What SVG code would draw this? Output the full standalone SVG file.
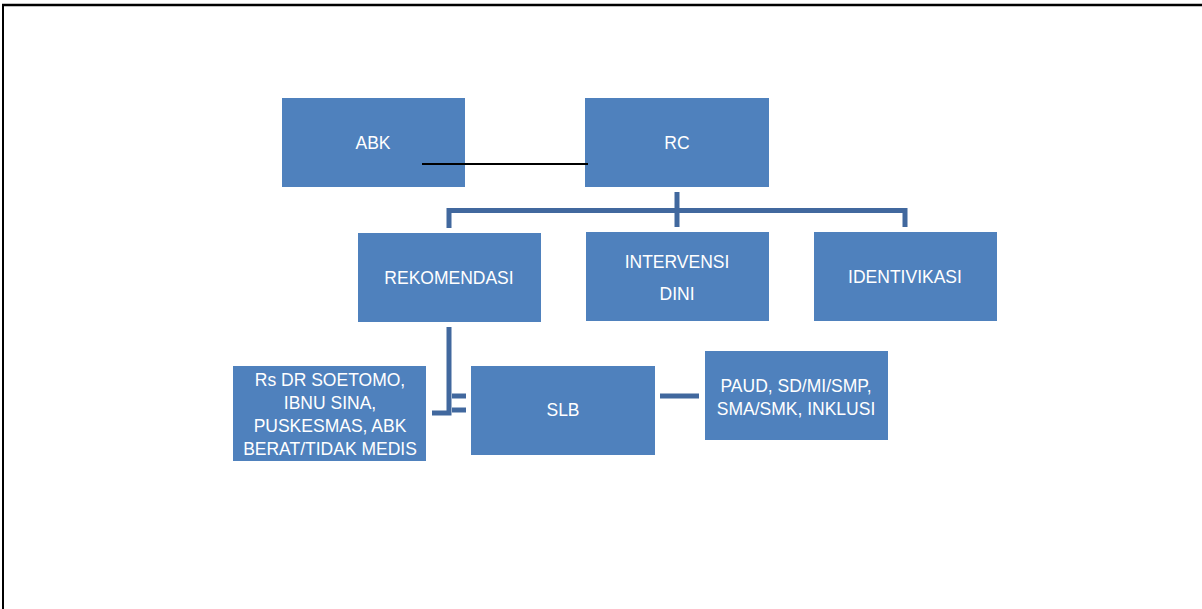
<svg xmlns="http://www.w3.org/2000/svg" width="1202" height="609" viewBox="0 0 1202 609">
<style>
.box{fill:#4F81BD;}
.t{fill:#FFFFFF;font-family:"Liberation Sans",Arial,sans-serif;font-size:17.5px;text-anchor:middle;}
.c{fill:none;stroke:#41689E;stroke-width:5;}
</style>
<rect x="0" y="0" width="1202" height="609" fill="#FFFFFF"/>
<g id="frame">
<line x1="2" y1="5" x2="1202" y2="5" stroke="#000" stroke-width="2.5"/>
<line x1="3" y1="4" x2="3" y2="609" stroke="#000" stroke-width="2"/>
</g>
<g id="node-abk"><rect class="box" x="282" y="98" width="183" height="89"/><text class="t" x="373" y="149">ABK</text></g>
<g id="node-rc"><rect class="box" x="585" y="98" width="184" height="89"/><text class="t" x="677" y="149">RC</text></g>
<g id="node-rekomendasi"><rect class="box" x="358" y="233" width="183" height="89"/><text class="t" x="449" y="284">REKOMENDASI</text></g>
<g id="node-intervensi"><rect class="box" x="586" y="232" width="183" height="89"/><text class="t" x="677" y="268">INTERVENSI</text><text class="t" x="677" y="300">DINI</text></g>
<g id="node-identivikasi"><rect class="box" x="814" y="232" width="183" height="89"/><text class="t" x="905" y="283">IDENTIVIKASI</text></g>
<g id="node-rs"><rect class="box" x="233" y="366" width="193" height="95"/><text class="t" x="330" y="386">Rs DR SOETOMO,</text><text class="t" x="330" y="409">IBNU SINA,</text><text class="t" x="330" y="432">PUSKESMAS, ABK</text><text class="t" x="330" y="455">BERAT/TIDAK MEDIS</text></g>
<g id="node-slb"><rect class="box" x="471" y="366" width="184" height="89"/><text class="t" x="563" y="416">SLB</text></g>
<g id="node-paud"><rect class="box" x="705" y="351" width="183" height="89"/><text class="t" x="796" y="392">PAUD, SD/MI/SMP,</text><text class="t" x="796" y="415">SMA/SMK, INKLUSI</text></g>
<g id="connectors">
<line x1="422" y1="164" x2="588" y2="164" stroke="#000" stroke-width="2"/>
<line class="c" x1="677" y1="192" x2="677" y2="227"/>
<polyline class="c" points="449,228 449,210.5 905,210.5 905,227"/>
<polyline class="c" points="449,327 449,413 432,413"/>
<line class="c" x1="452" y1="396" x2="466" y2="396"/>
<line class="c" x1="452" y1="410" x2="466" y2="410"/>
<line class="c" x1="660" y1="396" x2="699" y2="396"/>
</g>
</svg>
